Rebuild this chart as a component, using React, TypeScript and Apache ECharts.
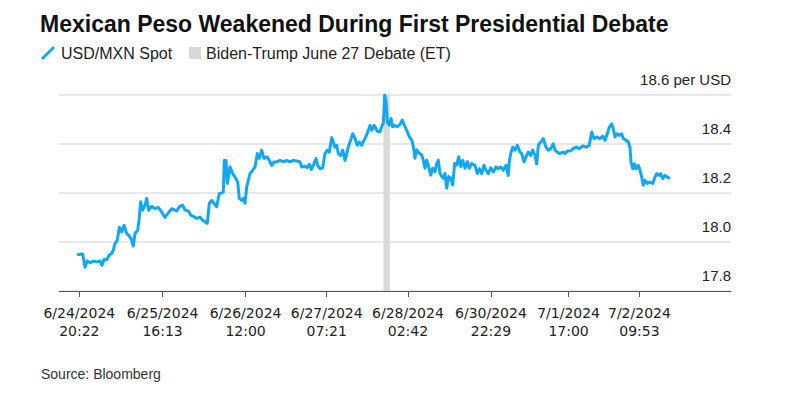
import React, { useEffect, useRef } from "react";
import * as echarts from "echarts";

// Trading hours (weekend removed) since 6/24/2024 20:22
const hours = [
  -0.24, 0.81, 1.36, 1.91, 2.55, 3.34, 4.15, 4.93, 5.41, 5.89, 6.53, 7.15, 7.72, 8.1, 8.51, 9.06, 9.54, 10.11, 10.66, 11.3,
  11.92, 12.49, 12.87, 13.28, 13.92, 14.23, 14.64, 15.11, 15.66, 16.07, 16.54, 17.26, 18.05, 18.83, 19.64, 20.43, 21.22, 22.03, 22.81, 23.22,
  23.84, 24.65, 25.2, 25.98, 26.56, 27.18, 27.99, 28.77, 29.42, 30.2, 30.51, 30.99, 31.56, 32.11, 32.75, 33.37, 33.95, 34.33, 34.57, 34.97,
  35.28, 35.92, 36.57, 37.12, 37.76, 38.14, 38.71, 39.09, 39.5, 39.9, 40.29, 40.69, 41.34, 41.88, 42.43, 42.91, 43.48, 44.03, 44.82, 45.29,
  45.86, 46.41, 47.06, 47.84, 48.63, 49.44, 50.23, 51.01, 51.82, 52.61, 53.02, 53.8, 54.35, 54.83, 55.3, 55.78, 56.42, 56.83, 57.38, 58.02,
  58.57, 59.12, 59.59, 60.17, 60.55, 60.95, 61.36, 61.74, 62.31, 62.79, 63.34, 63.76, 64.12, 64.53, 65.17, 65.72, 66.27, 66.75, 67.32, 67.87,
  68.35, 68.89, 69.3, 69.71, 70.25, 70.49, 71.04, 71.68, 72.16, 72.47, 72.8, 73.11, 73.42, 73.9, 74.3, 74.71, 75.26, 75.8, 76.45, 76.99,
  77.47, 78.05, 78.66, 79.24, 79.62, 80.02, 80.43, 81.05, 81.62, 82.0, 82.41, 82.81, 83.19, 83.77, 84.24, 84.79, 85.2, 85.58, 85.98, 86.39,
  86.77, 87.17, 87.58, 88.06, 88.53, 89.01, 89.49, 89.96, 90.44, 90.92, 91.4, 91.94, 92.49, 92.97, 93.54, 94.09, 94.33, 94.88, 95.35, 95.92,
  96.47, 96.95, 97.5, 98.07, 98.69, 99.33, 99.88, 100.45, 101.07, 101.72, 102.26, 102.5, 102.84, 103.31, 103.86, 104.41, 105.05, 105.46, 106.01, 106.48,
  107.03, 107.6, 108.08, 108.63, 109.03, 109.42, 109.99, 110.61, 111.25, 111.8, 112.37, 112.99, 113.4, 113.94, 114.59, 115.23, 115.78, 116.33, 116.97, 117.76,
  118.57, 119.19, 120.0, 120.79, 121.57, 122.15, 122.69, 123.34, 124.12, 124.77, 125.32, 125.86, 126.34, 126.91, 127.29, 127.7, 128.25, 128.72, 129.3, 129.68,
  130.32, 130.87, 131.27, 131.51, 131.92, 132.3, 132.71, 133.25, 133.66, 134.06, 134.44, 134.85, 135.4, 136.04, 136.69, 137.24, 137.64, 138.26, 138.6, 139.07,
  139.62, 140.17, 140.51,
];

const usdMxnSpot = [
  17.949, 17.951, 17.897, 17.923, 17.915, 17.922, 17.919, 17.922, 17.905, 17.929, 17.927, 17.947, 17.953, 17.967, 17.994, 18.008, 18.06, 18.041, 18.068, 18.035,
  18.025, 18.008, 17.983, 18.035, 18.048, 18.089, 18.164, 18.13, 18.15, 18.178, 18.13, 18.146, 18.136, 18.141, 18.122, 18.1, 18.119, 18.136, 18.13, 18.127,
  18.144, 18.15, 18.13, 18.127, 18.11, 18.105, 18.096, 18.102, 18.089, 18.079, 18.076, 18.158, 18.17, 18.158, 18.144, 18.198, 18.2, 18.204, 18.333, 18.333,
  18.239, 18.306, 18.279, 18.265, 18.245, 18.178, 18.17, 18.178, 18.158, 18.224, 18.252, 18.279, 18.293, 18.306, 18.361, 18.341, 18.375, 18.341, 18.347, 18.333,
  18.313, 18.327, 18.327, 18.333, 18.327, 18.333, 18.327, 18.333, 18.331, 18.327, 18.306, 18.309, 18.303, 18.317, 18.296, 18.313, 18.341, 18.313, 18.299, 18.303,
  18.361, 18.375, 18.367, 18.426, 18.408, 18.387, 18.395, 18.361, 18.353, 18.375, 18.333, 18.361, 18.387, 18.408, 18.442, 18.422, 18.395, 18.408, 18.395, 18.415,
  18.431, 18.456, 18.476, 18.456, 18.476, 18.471, 18.452, 18.45, 18.475, 18.484, 18.6, 18.573, 18.491, 18.477, 18.504, 18.471, 18.475, 18.471, 18.48, 18.498,
  18.477, 18.456, 18.43, 18.416, 18.39, 18.342, 18.376, 18.362, 18.355, 18.334, 18.301, 18.334, 18.314, 18.273, 18.301, 18.287, 18.321, 18.334, 18.28, 18.267,
  18.26, 18.28, 18.219, 18.267, 18.26, 18.233, 18.321, 18.314, 18.348, 18.308, 18.334, 18.301, 18.328, 18.301, 18.321, 18.314, 18.313, 18.279, 18.299, 18.279,
  18.313, 18.293, 18.279, 18.303, 18.286, 18.306, 18.299, 18.306, 18.293, 18.313, 18.272, 18.327, 18.361, 18.387, 18.375, 18.395, 18.367, 18.361, 18.327, 18.347,
  18.367, 18.353, 18.375, 18.353, 18.319, 18.395, 18.408, 18.422, 18.387, 18.375, 18.381, 18.401, 18.375, 18.367, 18.361, 18.367, 18.361, 18.371, 18.371, 18.381,
  18.387, 18.381, 18.392, 18.387, 18.395, 18.449, 18.422, 18.429, 18.422, 18.432, 18.415, 18.442, 18.469, 18.482, 18.462, 18.429, 18.442, 18.435, 18.442, 18.422,
  18.415, 18.408, 18.387, 18.327, 18.299, 18.319, 18.299, 18.313, 18.293, 18.265, 18.232, 18.252, 18.239, 18.245, 18.239, 18.265, 18.279, 18.272, 18.279, 18.259,
  18.272, 18.265, 18.262,
];

// X axis ticks (trading hours) and their labels
const tickHours = [0, 19.85, 39.63, 58.98, 78.33, 98.12, 116.63, 133.52];
const tickLabels = [
  "6/24/2024\n20:22",
  "6/25/2024\n16:13",
  "6/26/2024\n12:00",
  "6/27/2024\n07:21",
  "6/28/2024\n02:42",
  "6/30/2024\n22:29",
  "7/1/2024\n17:00",
  "7/2/2024\n09:53",
];

// Debate window (trading hours) 6/27 21:00 - 22:30 ET
const debateStart = 72.5;
const debateEnd = 74.0;

const yTicks = [17.8, 18.0, 18.2, 18.4, 18.6];

const LINE_COLOR = "#0fa8f7";
const BAND_COLOR = "#d9d9d9";
const FONT = "'Liberation Sans', Arial, Helvetica, sans-serif";

export default function App() {
  const ref = useRef<HTMLDivElement>(null);

  useEffect(() => {
    if (!ref.current) return;
    const chart = echarts.init(ref.current, undefined, { renderer: "svg" });
    const seriesData = hours.map((h, i) => [h, usdMxnSpot[i]]);

    chart.setOption({
      animation: false,
      backgroundColor: "#ffffff",
      textStyle: { fontFamily: FONT },
      grid: { left: 59, right: 69, top: 95, bottom: 106, containLabel: false },
      xAxis: {
        type: "value",
        min: -4.84,
        max: 155.35,
        splitLine: { show: false },
        axisLine: { show: true, lineStyle: { color: "#555555", width: 1 } },
        axisTick: {
          show: true,
          length: 6,
          customValues: tickHours,
          lineStyle: { color: "#555555", width: 1 },
        },
        axisLabel: {
          customValues: tickHours,
          margin: 13,
          fontFamily: "'DejaVu Sans', sans-serif",
          fontSize: 14,
          lineHeight: 18,
          color: "#222222",
          align: "center",
          formatter: (v: number) => {
            let best = 0;
            for (let i = 1; i < tickHours.length; i++) {
              if (Math.abs(tickHours[i] - v) < Math.abs(tickHours[best] - v)) best = i;
            }
            return tickLabels[best];
          },
        },
      },
      yAxis: {
        type: "value",
        position: "right",
        min: yTicks[0],
        max: yTicks[yTicks.length - 1],
        interval: 0.2,
        axisLine: { show: false },
        axisTick: { show: false },
        splitLine: { show: true, lineStyle: { color: "#e0e0e0", width: 1.5 } },
        axisLabel: {
          inside: true,
          margin: 0,
          fontFamily: FONT,
          fontSize: 15,
          color: "#222222",
          verticalAlign: "bottom",
          align: "right",
          padding: [0, 0, 8, 0],
          formatter: (v: number) => {
            const s = v.toFixed(1);
            return Math.abs(v - 18.6) < 1e-6 ? s + " per USD" : s;
          },
        },
      },
      series: [
        {
          name: "Biden-Trump June 27 Debate (ET)",
          type: "line",
          data: [],
          z: 1,
          silent: true,
          markArea: {
            silent: true,
            itemStyle: { color: BAND_COLOR, opacity: 1 },
            data: [[{ xAxis: debateStart }, { xAxis: debateEnd }]],
          },
        },
        {
          name: "USD/MXN Spot",
          type: "line",
          z: 3,
          data: seriesData,
          showSymbol: false,
          symbol: "none",
          lineStyle: { color: LINE_COLOR, width: 3, join: "round", cap: "round" },
        },
      ],
      graphic: [
        {
          type: "text",
          left: 40,
          top: 12,
          style: {
            text: "Mexican Peso Weakened During First Presidential Debate",
            fontFamily: FONT,
            fontWeight: "bold",
            fontSize: 23,
            fill: "#111111",
          },
        },
        {
          type: "line",
          shape: { x1: 42, y1: 59, x2: 54, y2: 47 },
          style: { stroke: LINE_COLOR, lineWidth: 3 },
        },
        {
          type: "text",
          left: 61,
          top: 45,
          style: { text: "USD/MXN Spot", fontFamily: FONT, fontSize: 16, fill: "#222222" },
        },
        {
          type: "rect",
          shape: { x: 189, y: 47, width: 12, height: 12 },
          style: { fill: BAND_COLOR },
        },
        {
          type: "text",
          left: 206,
          top: 45,
          style: { text: "Biden-Trump June 27 Debate (ET)", fontFamily: FONT, fontSize: 16, fill: "#222222" },
        },
        {
          type: "text",
          left: 41,
          top: 367,
          style: { text: "Source: Bloomberg", fontFamily: FONT, fontSize: 14, fill: "#333333" },
        },
      ],
    });

    return () => chart.dispose();
  }, []);

  return (
    <div
      ref={ref}
      style={{ position: "fixed", left: 0, top: 0, width: 800, height: 397 }}
    />
  );
}
